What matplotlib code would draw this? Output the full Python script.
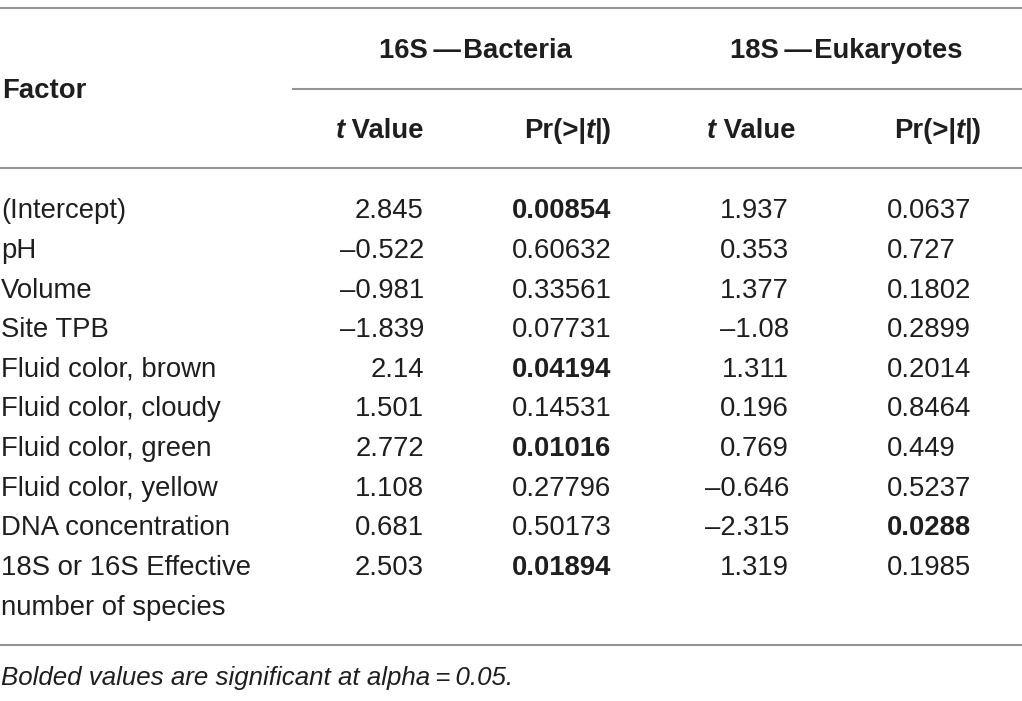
import matplotlib
matplotlib.use('Agg')
import matplotlib.pyplot as plt

plt.rcParams['font.family'] = ['Liberation Sans', 'DejaVu Sans']

# table data
factors = ['(Intercept)', 'pH', 'Volume', 'Site TPB', 'Fluid color, brown',
           'Fluid color, cloudy', 'Fluid color, green', 'Fluid color, yellow',
           'DNA concentration', '18S or 16S Effective\nnumber of species']
bac_t = ['2.845', '\u20130.522', '\u20130.981', '\u20131.839', '2.14', '1.501',
         '2.772', '1.108', '0.681', '2.503']
bac_p = ['0.00854', '0.60632', '0.33561', '0.07731', '0.04194', '0.14531',
         '0.01016', '0.27796', '0.50173', '0.01894']
euk_t = ['1.937', '0.353', '1.377', '\u20131.08', '1.311', '0.196', '0.769',
         '\u20130.646', '\u20132.315', '1.319']
euk_p = ['0.0637', '0.727', '0.1802', '0.2899', '0.2014', '0.8464', '0.449',
         '0.5237', '0.0288', '0.1985']
alpha = 0.05
groups = ['16S\u2009\u2014\u200aBacteria', '18S\u2009\u2014\u200aEukaryotes']
footnote = 'Bolded values are significant at alpha\u2009=\u20090.05.'

W, H = 1022, 701
fig = plt.figure(figsize=(W / 100, H / 100), dpi=100)
ax = fig.add_axes([0, 0, 1, 1])
ax.set_xlim(0, W)
ax.set_ylim(H, 0)
ax.axis('off')

TXT = '#1e1e1e'
LINE = '#959595'
FS = 19.8

renderer = fig.canvas.get_renderer()


def seg_text(x, y, segs, ha='left', **kw):
    # segs: list of (text, weight, style); draws them side by side
    arts = []
    cx = x
    for s, w, st in segs:
        t = ax.text(cx, y, s, ha='left', va='center', fontsize=FS,
                    fontweight=w, fontstyle=st, color=TXT, **kw)
        bb = t.get_window_extent(renderer)
        cx += bb.width
        arts.append(t)
    total = cx - x
    if ha == 'right':
        for t in arts:
            t.set_x(t.get_position()[0] - total)
    elif ha == 'center':
        for t in arts:
            t.set_x(t.get_position()[0] - total / 2)


# rules
ax.plot([0, W], [8, 8], color=LINE, lw=1.5)
ax.plot([293, W], [89, 89], color=LINE, lw=1.5)
ax.plot([0, W], [168, 168], color=LINE, lw=1.5)
ax.plot([0, W], [645, 645], color=LINE, lw=1.5)

# header
ax.text(2, 91, 'Factor', ha='left', va='center', fontsize=FS,
        fontweight='bold', color=TXT)
ax.text(475, 51, groups[0], ha='center', va='center', fontsize=FS,
        fontweight='bold', color=TXT)
ax.text(846, 51, groups[1], ha='center', va='center', fontsize=FS,
        fontweight='bold', color=TXT)

tval = [('t', 'bold', 'italic'), (' Value', 'bold', 'normal')]
prt = [('Pr(>|', 'bold', 'normal'), ('t', 'bold', 'italic'), ('|)', 'bold', 'normal')]
seg_text(424, 131, tval, ha='right')
seg_text(612, 131, prt, ha='right')
seg_text(795, 131, tval, ha='right')
seg_text(982, 131, prt, ha='right')

# body
y0, dy = 211.5, 39.6
for i, f in enumerate(factors):
    y = y0 + i * dy
    lines = f.split('\n')
    for j, ln in enumerate(lines):
        ax.text(1, y + j * dy, ln, ha='left', va='center', fontsize=FS,
                color=TXT)
    ax.text(424, y, bac_t[i], ha='right', va='center', fontsize=FS, color=TXT)
    w = 'bold' if float(bac_p[i]) < alpha else 'normal'
    ax.text(512, y, bac_p[i], ha='left', va='center', fontsize=FS, color=TXT,
            fontweight=w)
    ax.text(789, y, euk_t[i], ha='right', va='center', fontsize=FS, color=TXT)
    w = 'bold' if float(euk_p[i]) < alpha else 'normal'
    ax.text(887, y, euk_p[i], ha='left', va='center', fontsize=FS, color=TXT,
            fontweight=w)

ax.text(1, 678, footnote, ha='left', va='center', fontsize=18.6,
        fontstyle='italic', color=TXT)

fig.savefig('out.png', dpi=100)
